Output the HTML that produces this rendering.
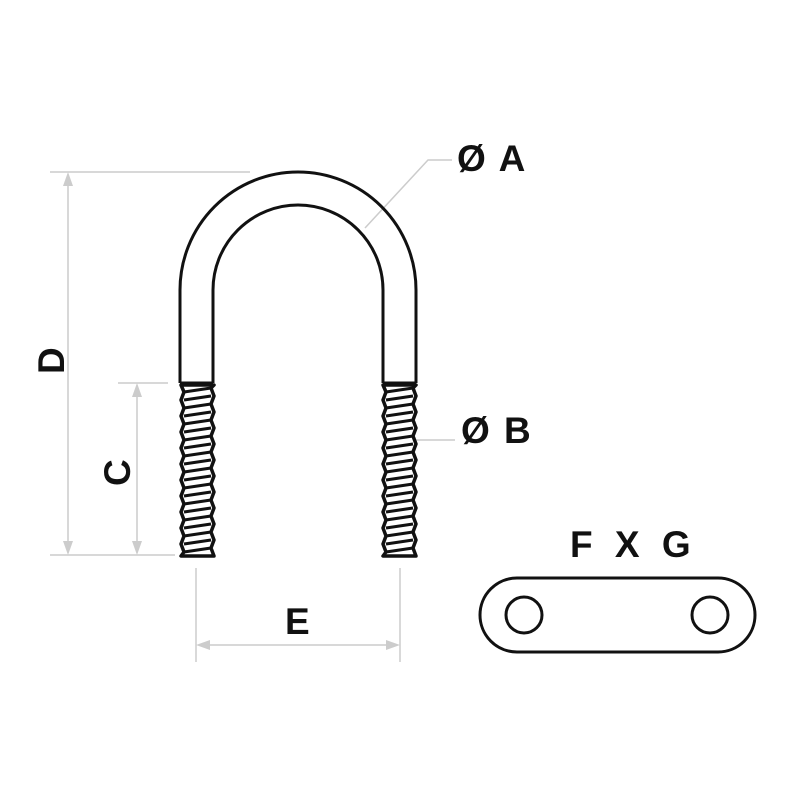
<!DOCTYPE html>
<html><head><style>body{margin:0;background:#fff}svg{display:block}</style></head>
<body>
<svg width="800" height="800" viewBox="0 0 800 800" xmlns="http://www.w3.org/2000/svg">
<defs>
<g id="th">
<path d="M181,385 L184,392 L181,400 L184,408 L181,416 L184,424 L181,432 L184,440 L181,448 L184,456 L181,464 L184,472 L181,480 L184,488 L181,496 L184,504 L181,512 L184,520 L181,528 L184,536 L181,544 L184,552 L181,556 H214 L211,548 L214,540 L211,532 L214,524 L211,516 L214,508 L211,500 L214,492 L211,484 L214,476 L211,468 L214,460 L211,452 L214,444 L211,436 L214,428 L211,420 L214,412 L211,404 L214,396 L211,388 L214,385 Z" stroke="#111" stroke-width="3.5" fill="#fff" stroke-linejoin="round"/>
<g stroke="#111" stroke-width="3">
<line x1="184" y1="392" x2="211" y2="388"/><line x1="184" y1="400" x2="211" y2="396"/><line x1="184" y1="408" x2="211" y2="404"/><line x1="184" y1="416" x2="211" y2="412"/><line x1="184" y1="424" x2="211" y2="420"/><line x1="184" y1="432" x2="211" y2="428"/><line x1="184" y1="440" x2="211" y2="436"/><line x1="184" y1="448" x2="211" y2="444"/><line x1="184" y1="456" x2="211" y2="452"/><line x1="184" y1="464" x2="211" y2="460"/><line x1="184" y1="472" x2="211" y2="468"/><line x1="184" y1="480" x2="211" y2="476"/><line x1="184" y1="488" x2="211" y2="484"/><line x1="184" y1="496" x2="211" y2="492"/><line x1="184" y1="504" x2="211" y2="500"/><line x1="184" y1="512" x2="211" y2="508"/><line x1="184" y1="520" x2="211" y2="516"/><line x1="184" y1="528" x2="211" y2="524"/><line x1="184" y1="536" x2="211" y2="532"/><line x1="184" y1="544" x2="211" y2="540"/><line x1="184" y1="552" x2="211" y2="548"/>
</g>
</g>
</defs>
<g stroke="#ccc" stroke-width="1.5" fill="none">
<line x1="50" y1="172" x2="250" y2="172"/>
<line x1="50" y1="555" x2="175" y2="555"/>
<line x1="68" y1="178" x2="68" y2="549"/>
<line x1="118" y1="383" x2="168" y2="383"/>
<line x1="137" y1="389" x2="137" y2="549"/>
<line x1="196" y1="568" x2="196" y2="662"/>
<line x1="400" y1="568" x2="400" y2="662"/>
<line x1="202" y1="645" x2="394" y2="645"/>
<polyline points="365,228 428,160 452,160"/>
<line x1="416" y1="440" x2="455" y2="440"/>
</g>
<g fill="#ccc">
<polygon points="68,172 63,186 73,186"/><polygon points="68,555 63,541 73,541"/>
<polygon points="137,383 132,397 142,397"/><polygon points="137,555 132,541 142,541"/>
<polygon points="196,645 210,640 210,650"/><polygon points="400,645 386,640 386,650"/>
</g>
<path d="M180,383 V290 A118,118 0 0 1 416,290 V383 M213,383 V290 A85,85 0 0 1 383,290 V383 M180,383 H213 M383,383 H416" stroke="#111" stroke-width="3" fill="none"/>
<use href="#th"/>
<use href="#th" x="202"/>
<g stroke="#111" stroke-width="3" fill="none">
<rect x="480" y="578" width="275" height="74" rx="37"/>
<circle cx="524" cy="615" r="18"/>
<circle cx="710" cy="615" r="18"/>
</g>
<g font-family="Liberation Sans, sans-serif" font-weight="bold" font-size="37" fill="#111">
<text x="457" y="171" letter-spacing="2">Ø A</text>
<text x="461" y="443" letter-spacing="2">Ø B</text>
<text x="570" y="557" letter-spacing="6">F X G</text>
<text x="285" y="634">E</text>
<text transform="translate(64,374) rotate(-90)">D</text>
<text transform="translate(130,486) rotate(-90)">C</text>
</g>
</svg>
</body></html>
